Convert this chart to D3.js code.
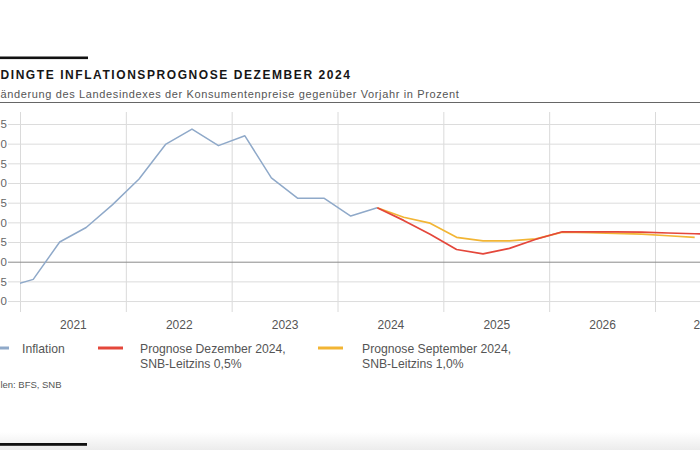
<!DOCTYPE html>
<html><head><meta charset="utf-8">
<script src="https://cdn.jsdelivr.net/npm/d3@7"></script>
<style>
body{margin:0;background:#fff}
svg{display:block}
text{font-family:"Liberation Sans",Arial,Helvetica,sans-serif}
</style>
</head><body>
<svg id="c" width="700" height="450"></svg>
<script>
// ---- data (the reference is a cropped view) ----
const yearLabels = ["2021","2022","2023","2024","2025","2026","2027"];
const yTicks = [-1.0,-0.5,0.0,0.5,1.0,1.5,2.0,2.5,3.0,3.5];

const inflationQuarters = ["2020Q4","2021Q1","2021Q2","2021Q3","2021Q4","2022Q1","2022Q2","2022Q3","2022Q4","2023Q1","2023Q2","2023Q3","2023Q4","2024Q1","2024Q2"];
const inflationValues   = [-0.65,-0.45,0.50,0.87,1.45,2.10,2.98,3.37,2.95,3.20,2.13,1.61,1.61,1.16,1.37];

const decQuarters = ["2024Q2","2024Q3","2024Q4","2025Q1","2025Q2","2025Q3","2025Q4","2026Q1","2026Q2","2026Q3","2026Q4","2027Q1","2027Q2","2027Q3"];
const decValues   = [1.37,1.05,0.70,0.31,0.20,0.34,0.57,0.76,0.76,0.76,0.75,0.73,0.71,0.70];

const sepQuarters = ["2024Q2","2024Q3","2024Q4","2025Q1","2025Q2","2025Q3","2025Q4","2026Q1","2026Q2","2026Q3","2026Q4","2027Q1","2027Q2"];
const sepValues   = [1.37,1.13,0.98,0.62,0.53,0.53,0.58,0.75,0.74,0.72,0.70,0.66,0.62];

const seriesNames = ["Inflation","Prognose Dezember 2024,|SNB-Leitzins 0,5%","Prognose September 2024,|SNB-Leitzins 1,0%"];
const colors = ["#8fa9c9","#e4473b","#f2b534"];

// texts as visible in the cropped reference
const titleText = "DINGTE INFLATIONSPROGNOSE DEZEMBER 2024";
const subtitleText = "änderung des Landesindexes der Konsumentenpreise gegenüber Vorjahr in Prozent";
const sourceText = "len: BFS, SNB";

// ---- helpers ----
const qToT = q => +q.slice(0,4) + (+q.slice(5) - 0.5)/4;
const zip = (qs, vs) => qs.map((q,i)=>({t:qToT(q), v:vs[i]}));

const svg = d3.select("#c");
const W = 700, H = 450;
svg.append("rect").attr("width",W).attr("height",H).attr("fill","#fff");

// bottom faint band
const grad = svg.append("defs").append("linearGradient").attr("id","bg").attr("x1",0).attr("x2",0).attr("y1",0).attr("y2",1);
grad.append("stop").attr("offset","0%").attr("stop-color","#ffffff");
grad.append("stop").attr("offset","100%").attr("stop-color","#ececec");
svg.append("rect").attr("x",0).attr("y",432).attr("width",W).attr("height",18).attr("fill","url(#bg)");

// top bar, title, subtitle, rule
svg.append("rect").attr("x",0).attr("y",56.5).attr("width",88).attr("height",2.6).attr("fill","#111");

function fitText(str, x0, width, y, attrs){
  const t = svg.append("text").attr("x",x0).attr("y",y).text(str);
  Object.entries(attrs).forEach(([k,v])=>t.attr(k,v));
  const w = t.node().getComputedTextLength();
  t.attr("letter-spacing", (width - w)/str.length);
  return t;
}
fitText(titleText, 0.5, 351, 78.5, {"font-size":12,"font-weight":"bold","fill":"#161616"});
fitText(subtitleText, 0.5, 459, 97.5, {"font-size":11,"fill":"#555"});
svg.append("line").attr("x1",0).attr("x2",W).attr("y1",102.5).attr("y2",102.5).attr("stroke","#666").attr("stroke-width",1);

// ---- scales ----
const x = d3.scaleLinear().domain([2021,2027]).range([20,655]);
const y = d3.scaleLinear().domain([0,3.5]).range([261.7,124]);
const plotTop = 112, plotBottom = 312;

// vertical grid (year boundaries)
const years = yearLabels.map(Number);
const xGrid = svg.append("g").attr("transform",`translate(0,${plotBottom})`)
  .call(d3.axisBottom(x).tickValues(years).tickSize(-(plotBottom-plotTop)).tickFormat(""));
xGrid.select(".domain").remove();
xGrid.selectAll("line").attr("stroke","#dadada").attr("stroke-width",1);

// horizontal grid + y labels (only the last digit is visible in the crop)
const fmt = v => (v<0?"–":"") + Math.abs(v).toFixed(1).replace(".",",");
const yAx = svg.append("g").attr("transform","translate(8,0)")
  .call(d3.axisLeft(y).tickValues(yTicks).tickSize(-(W+40)).tickPadding(3).tickFormat(v=>fmt(v).slice(-1)));
yAx.select(".domain").remove();
yAx.selectAll("line").attr("stroke",d=>d===0?"#8a8a8a":"#dcdcdc").attr("stroke-width",1);
yAx.selectAll("text").attr("font-size",11.5).attr("fill","#666").attr("font-family","Liberation Sans, Arial, sans-serif")
  .attr("text-anchor","start").attr("x",-7.6);

// year labels
const xLab = svg.append("g").attr("transform",`translate(0,${plotBottom})`)
  .call(d3.axisBottom(x).tickValues(years.slice(0,6).map(v=>v+0.5)).tickSize(0).tickPadding(8)
  .tickFormat(d=>yearLabels[Math.floor(d)-2021]));
xLab.select(".domain").remove();
xLab.selectAll("text").attr("font-size",12).attr("fill","#555").attr("font-family","Liberation Sans, Arial, sans-serif");
// last year label, only its first digit lies inside the crop
svg.append("text").attr("x",693.5).attr("y",plotBottom+8).attr("dy","0.71em")
  .attr("font-size",12).attr("fill","#555").text(yearLabels[6].slice(0,1));

// ---- lines ----
svg.append("clipPath").attr("id","plot").append("rect")
  .attr("x",20).attr("y",plotTop).attr("width",W).attr("height",plotBottom-plotTop);
const line = d3.line().x(d=>x(d.t)).y(d=>y(d.v));
const g = svg.append("g").attr("clip-path","url(#plot)");
g.append("path").datum(zip(sepQuarters,sepValues)).attr("d",line)
  .attr("fill","none").attr("stroke",colors[2]).attr("stroke-width",1.7).attr("stroke-linejoin","round");
g.append("path").datum(zip(decQuarters,decValues)).attr("d",line)
  .attr("fill","none").attr("stroke",colors[1]).attr("stroke-width",1.7).attr("stroke-linejoin","round");
g.append("path").datum(zip(inflationQuarters,inflationValues)).attr("d",line)
  .attr("fill","none").attr("stroke",colors[0]).attr("stroke-width",1.5).attr("stroke-linejoin","round");

// ---- legend ----
const legendPos = [{lx:-16,tx:22},{lx:98,tx:140},{lx:318,tx:362}];
seriesNames.forEach((name,i)=>{
  const p = legendPos[i];
  svg.append("line").attr("x1",p.lx).attr("x2",p.lx+25).attr("y1",348).attr("y2",348)
    .attr("stroke",colors[i]).attr("stroke-width",3);
  const t = svg.append("text").attr("x",p.tx).attr("y",352.5).attr("font-size",12.2).attr("fill","#555");
  name.split("|").forEach((s,j)=>t.append("tspan").attr("x",p.tx).attr("dy",j?15:0).text(s));
});

// source
fitText(sourceText, 0.5, 61, 387.5, {"font-size":9.5,"fill":"#555"});

// bottom bar
svg.append("rect").attr("x",0).attr("y",443).attr("width",87).attr("height",2.8).attr("fill","#111");
</script>
</body></html>
